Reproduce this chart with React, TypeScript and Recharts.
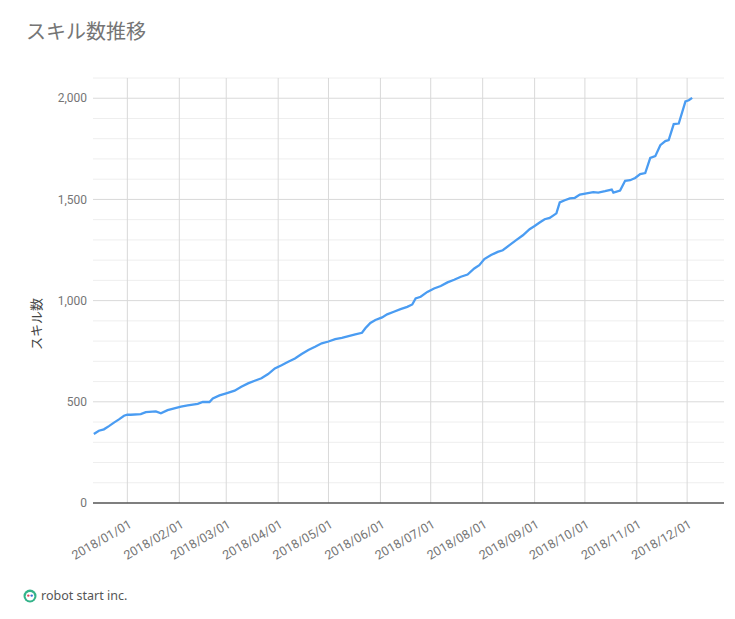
import { CartesianGrid, Line, LineChart, XAxis, YAxis } from "recharts";

// 日付と累計スキル数
const dates = [
  "2017/12/12", "2017/12/15", "2017/12/18", "2017/12/21", "2017/12/24", "2017/12/27", "2017/12/30",
  "2018/01/01", "2018/01/03", "2018/01/09", "2018/01/12", "2018/01/18", "2018/01/21", "2018/01/25",
  "2018/01/29", "2018/02/02", "2018/02/06", "2018/02/12", "2018/02/15", "2018/02/19", "2018/02/21",
  "2018/02/25", "2018/03/01", "2018/03/06", "2018/03/10", "2018/03/14", "2018/03/18", "2018/03/22",
  "2018/03/26", "2018/03/30", "2018/04/03", "2018/04/07", "2018/04/11", "2018/04/15", "2018/04/19",
  "2018/04/23", "2018/04/27", "2018/05/01", "2018/05/05", "2018/05/09", "2018/05/13", "2018/05/17",
  "2018/05/21", "2018/05/23", "2018/05/26", "2018/05/29", "2018/06/02", "2018/06/05", "2018/06/09",
  "2018/06/13", "2018/06/17", "2018/06/20", "2018/06/22", "2018/06/25", "2018/06/29", "2018/07/03",
  "2018/07/07", "2018/07/11", "2018/07/15", "2018/07/19", "2018/07/23", "2018/07/27", "2018/07/30",
  "2018/08/02", "2018/08/06", "2018/08/10", "2018/08/13", "2018/08/17", "2018/08/21", "2018/08/25",
  "2018/08/29", "2018/09/01", "2018/09/04", "2018/09/07", "2018/09/10", "2018/09/14", "2018/09/16",
  "2018/09/19", "2018/09/22", "2018/09/25", "2018/09/28", "2018/10/02", "2018/10/06", "2018/10/09",
  "2018/10/13", "2018/10/17", "2018/10/18", "2018/10/22", "2018/10/25", "2018/10/28", "2018/10/31",
  "2018/11/03", "2018/11/06", "2018/11/09", "2018/11/12", "2018/11/15", "2018/11/18", "2018/11/20",
  "2018/11/23", "2018/11/26", "2018/11/30", "2018/12/02", "2018/12/04",
];

const skills = [
  341, 357, 364, 380, 397, 413, 431,
  436, 436, 439, 449, 453, 443, 459,
  468, 476, 482, 490, 499, 499, 517,
  532, 542, 555, 574, 591, 604, 616,
  637, 665, 681, 698, 714, 736, 756,
  772, 789, 798, 810, 816, 825, 833,
  841, 863, 890, 904, 917, 932, 945,
  958, 969, 981, 1011, 1019, 1043, 1060,
  1072, 1090, 1103, 1118, 1129, 1159, 1175,
  1205, 1225, 1241, 1249, 1274, 1299, 1323,
  1353, 1369, 1386, 1402, 1409, 1431, 1485,
  1496, 1505, 1508, 1524, 1530, 1536, 1534,
  1541, 1549, 1534, 1544, 1592, 1595, 1606,
  1625, 1630, 1705, 1714, 1768, 1788, 1793,
  1872, 1875, 1984, 1990, 2002,
];

const monthTicks = [
  "2018/01/01", "2018/02/01", "2018/03/01", "2018/04/01", "2018/05/01", "2018/06/01",
  "2018/07/01", "2018/08/01", "2018/09/01", "2018/10/01", "2018/11/01", "2018/12/01",
];

const yTicks = [0, 500, 1000, 1500, 2000];
const yMajorLines = [500, 1000, 1500, 2000];
const yMinorLines = [100, 200, 300, 400, 600, 700, 800, 900, 1100, 1200, 1300, 1400, 1600, 1700, 1800, 1900, 2100];

const DAY = 86400000;
const toDay = (s: string) => {
  const [y, m, d] = s.split("/").map(Number);
  return (Date.UTC(y, m - 1, d) - Date.UTC(2018, 0, 1)) / DAY;
};

const chartData = dates.map((d, i) => ({ day: toDay(d), skills: skills[i] }));
const monthDays = monthTicks.map(toDay);
const labelByDay = new Map(monthTicks.map((t) => [toDay(t), t]));

const FONT = "Roboto, 'Noto Sans CJK JP', sans-serif";

function MonthTick({ x, y, payload }: any) {
  return (
    <g transform={`translate(${x + 3},${y + 12}) rotate(-30)`}>
      <text x={0} y={0} dy="0.35em" textAnchor="end" fontSize={12.5} fill="#757575" fontFamily={FONT}>
        {labelByDay.get(payload.value)}
      </text>
    </g>
  );
}

function Logo() {
  return (
    <svg width={14} height={14} viewBox="0 0 14 14" style={{ position: "absolute", left: 23, top: 589 }}>
      <circle cx={7} cy={7} r={6.5} fill="#34b38a" />
      <circle cx={7} cy={7.3} r={4.3} fill="#fff" />
      <circle cx={5.3} cy={6.6} r={1.2} fill="#e0445a" />
      <circle cx={8.7} cy={6.6} r={1.2} fill="#3a6fd8" />
    </svg>
  );
}

export default function App() {
  return (
    <div style={{ position: "absolute", left: 0, top: 0, width: 735, height: 619, background: "#fff" }}>
      <div
        style={{
          position: "absolute",
          left: 26,
          top: 17,
          fontSize: 20,
          color: "#757575",
          fontFamily: "'Noto Sans CJK JP', sans-serif",
          lineHeight: "28px",
        }}
      >
        スキル数推移
      </div>

      <LineChart
        width={735}
        height={619}
        data={chartData}
        margin={{ top: 78, right: 11, bottom: 56, left: 33 }}
        style={{ position: "absolute", left: 0, top: 0 }}
      >
        <CartesianGrid stroke="#eeeeee" vertical={false} horizontalValues={yMinorLines} />
        <CartesianGrid stroke="#d9d9d9" horizontalValues={yMajorLines} verticalValues={monthDays} />
        <XAxis
          dataKey="day"
          type="number"
          domain={[-20.5, 356]}
          ticks={monthDays}
          tick={<MonthTick />}
          tickLine={false}
          axisLine={{ stroke: "#555", strokeWidth: 1.5 }}
          height={60}
          interval={0}
        />
        <YAxis
          type="number"
          domain={[0, 2100]}
          ticks={yTicks}
          tickFormatter={(v: number) => v.toLocaleString("en-US")}
          tick={{ fontSize: 12, fill: "#757575", fontFamily: FONT }}
          tickLine={false}
          tickSize={0}
          tickMargin={6}
          axisLine={false}
          width={60}
          interval={0}
          label={{
            content: () => (
              <text
                x={36}
                y={324}
                transform="rotate(-90 36 324)"
                textAnchor="middle"
                dominantBaseline="central"
                fontSize={13}
                fill="#444"
                fontFamily={FONT}
              >
                スキル数
              </text>
            ),
          }}
        />
        <Line
          type="linear"
          dataKey="skills"
          stroke="#4a9cf2"
          strokeWidth={2.3}
          dot={false}
          activeDot={false}
          isAnimationActive={false}
        />
      </LineChart>

      <Logo />
      <div
        style={{
          position: "absolute",
          left: 41,
          top: 587,
          fontSize: 12.5,
          color: "#555",
          fontFamily: "'Noto Sans', sans-serif",
          lineHeight: "18px",
        }}
      >
        robot start inc.
      </div>
    </div>
  );
}
